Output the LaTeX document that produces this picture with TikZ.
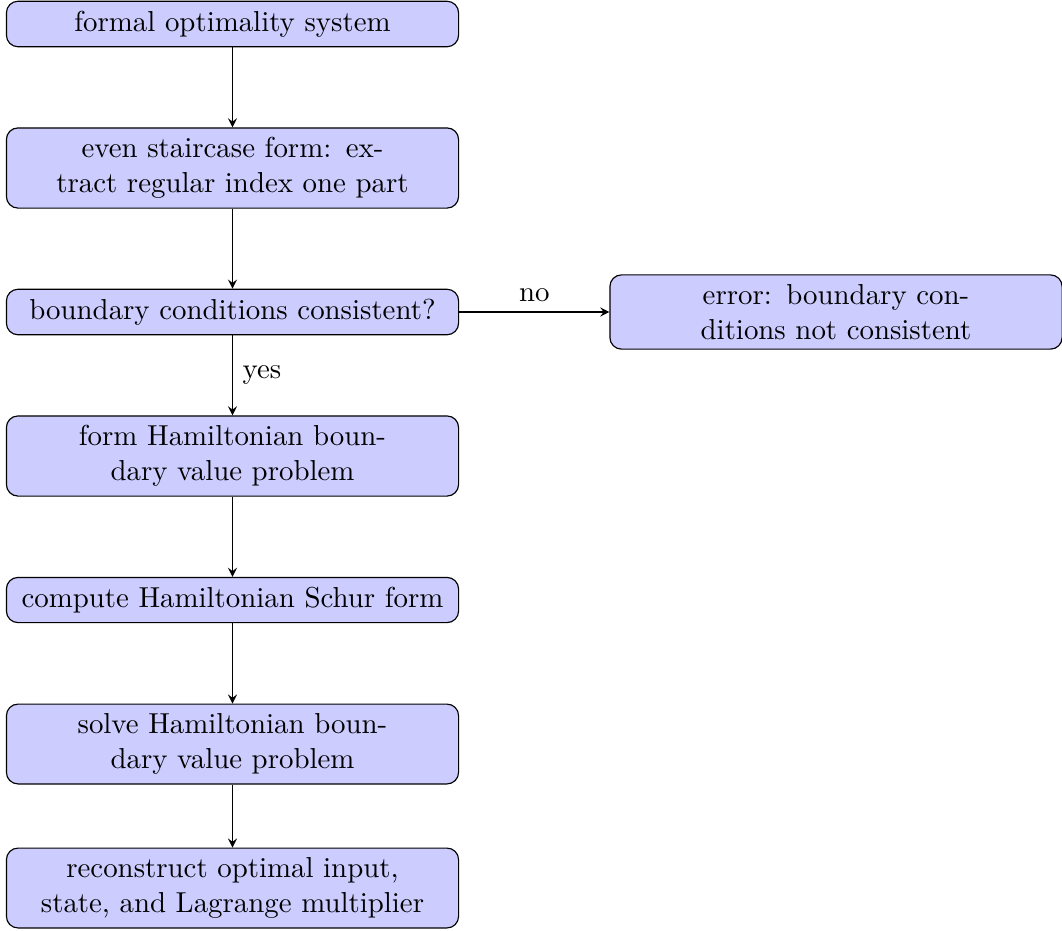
\documentclass[tikz,border=0pt]{standalone}
\usetikzlibrary{arrows}
\begin{document}
\begin{tikzpicture}[x=0.3465pt, y=-0.3465pt,
  block/.style={rectangle, draw, fill=blue!20, text width=15em, align=center, rounded corners},
  line/.style={draw, -stealth}
]
\useasboundingbox (0,0) rectangle (1062,930);
\node[block] (a) at (232.5,24) {formal optimality system};
\node[block] (b) at (232.5,168) {even staircase form: ex-\\tract regular index one part};
\node[block] (c) at (232.5,312) {boundary conditions consistent?};
\node[block] (e) at (836,312) {error: boundary con-\\ditions not consistent};
\node[block] (d) at (232.5,456) {form Hamiltonian boun-\\dary value problem};
\node[block] (f) at (232.5,600) {compute Hamiltonian Schur form};
\node[block] (g) at (232.5,744) {solve Hamiltonian boun-\\dary value problem};
\node[block] (h) at (232.5,888) {reconstruct optimal input,\\state, and Lagrange multiplier};
\path[line] (a) -- (b);
\path[line] (b) -- (c);
\path[line] (c) -- node[above] {no} (e);
\path[line] (c) -- node[right] {yes} (d);
\path[line] (d) -- (f);
\path[line] (f) -- (g);
\path[line] (g) -- (h);
\end{tikzpicture}
\end{document}
